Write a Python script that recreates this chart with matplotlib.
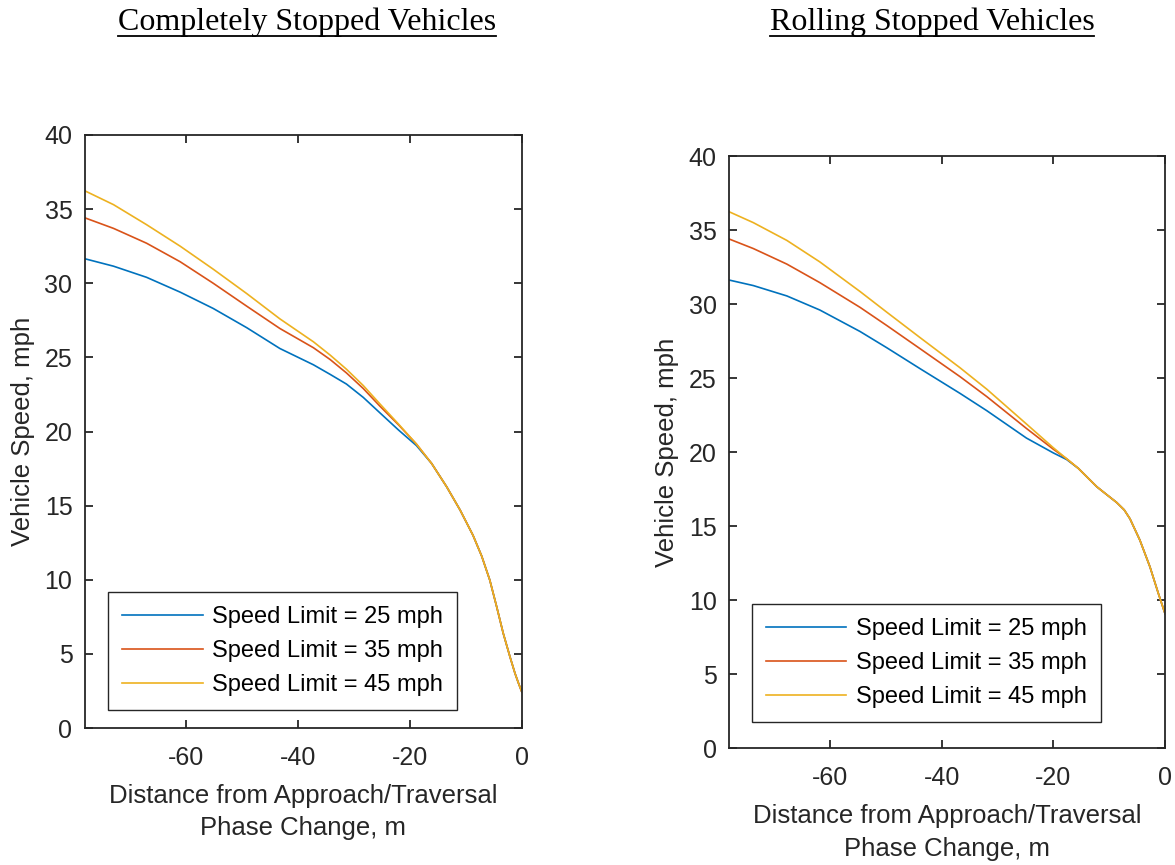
import matplotlib

matplotlib.use("Agg")
import matplotlib.pyplot as plt
from matplotlib.lines import Line2D

plt.rcParams["font.family"] = ["Liberation Sans", "DejaVu Sans"]
plt.rcParams["axes.unicode_minus"] = False

# speed profiles, x in m relative to the approach/traversal phase change
series_labels = ["Speed Limit = 25 mph", "Speed Limit = 35 mph", "Speed Limit = 45 mph"]
colors = ["#0072BD", "#D95319", "#EDB120"]

# completely stopped vehicles
cs_x = [-78, -72.9, -67.0, -61.0, -55.1, -49.1, -43.2, -37.2, -34.2, -31.3, -28.3, -25.3,
        -22.0, -18.8, -16.1, -13.4, -11.0, -8.7, -7.15, -5.7, -4.47, -3.3, -2.1, -1.2,
        -0.6, 0]
cs_v_25 = [31.65, 31.15, 30.4, 29.4, 28.3, 27.0, 25.6, 24.5, 23.85, 23.2, 22.3, 21.25,
           20.1, 19.05, 17.85, 16.27, 14.7, 13.0, 11.6, 9.98, 8.18, 6.39, 4.81, 3.69,
           3.05, 2.45]
cs_v_35 = [34.41, 33.7, 32.7, 31.45, 30.0, 28.45, 26.95, 25.65, 24.85, 23.95, 22.9, 21.7,
           20.45, 19.15, 17.85, 16.27, 14.7, 13.0, 11.6, 9.98, 8.18, 6.39, 4.81, 3.69,
           3.05, 2.45]
cs_v_45 = [36.23, 35.3, 33.95, 32.5, 30.95, 29.3, 27.6, 26.05, 25.15, 24.2, 23.1, 21.85,
           20.5, 19.15, 17.85, 16.27, 14.7, 13.0, 11.6, 9.98, 8.18, 6.39, 4.81, 3.69,
           3.05, 2.45]

# rolling stopped vehicles
rs_x = [-78, -73.7, -67.7, -61.8, -54.6, -49.8, -43.9, -36.7, -31.9, -24.8, -20.0,
        -17.6, -15.5, -12.2, -10.5, -8.65, -7.3, -6.27, -4.5, -2.7, -1.2, 0]
rs_v_25 = [31.62, 31.25, 30.55, 29.6, 28.15, 27.05, 25.65, 23.97, 22.8, 20.95, 19.95,
           19.5, 18.9, 17.66, 17.15, 16.6, 16.1, 15.5, 14.06, 12.26, 10.47, 9.1]
rs_v_35 = [34.39, 33.75, 32.7, 31.45, 29.78, 28.55, 27.0, 25.1, 23.75, 21.6, 20.2,
           19.55, 18.9, 17.66, 17.15, 16.6, 16.1, 15.5, 14.06, 12.26, 10.47, 9.1]
rs_v_45 = [36.23, 35.5, 34.3, 32.85, 30.85, 29.45, 27.75, 25.7, 24.25, 21.9, 20.3,
           19.55, 18.9, 17.66, 17.15, 16.6, 16.1, 15.5, 14.06, 12.26, 10.47, 9.1]

x_ticks = [-60, -40, -20, 0]
y_ticks = [0, 5, 10, 15, 20, 25, 30, 35, 40]

W, H = 1175, 865
INK = "#262626"
fig = plt.figure(figsize=(W / 100, H / 100), dpi=100)


def px_axes(left, top, right, bottom):
    return fig.add_axes([left / W, 1 - bottom / H, (right - left) / W, (bottom - top) / H])


def style(ax):
    ax.set_xlim(-78, 0)
    ax.set_ylim(0, 40)
    ax.set_xticks(x_ticks)
    ax.set_yticks(y_ticks)
    for s in ax.spines.values():
        s.set_color(INK)
        s.set_linewidth(1.3)
    ax.tick_params(direction="in", length=6, width=1.3, color=INK,
                   top=True, right=True, labelsize=18, labelcolor=INK)
    ax.tick_params(axis="x", pad=13)
    ax.tick_params(axis="y", pad=9)
    ax.set_ylabel("Vehicle Speed, mph", fontsize=18.5, color=INK, labelpad=7)
    ax.set_xlabel("Distance from Approach/Traversal\nPhase Change, m", fontsize=18.5,
                  color=INK, linespacing=1.45, labelpad=10)


def add_legend(ax, anchor):
    leg = ax.legend(loc="lower left", bbox_to_anchor=anchor, fontsize=17,
                    handlelength=3.4, handletextpad=0.4, labelspacing=0.5,
                    borderpad=0.6, borderaxespad=0, fancybox=False, framealpha=1)
    leg.get_frame().set_edgecolor(INK)
    leg.get_frame().set_linewidth(1.0)


ax1 = px_axes(85, 135, 521.7, 728)
for vs, c, lab in zip([cs_v_25, cs_v_35, cs_v_45], colors, series_labels):
    ax1.plot(cs_x, vs, color=c, lw=1.2, label=lab)
style(ax1)
add_legend(ax1, (0.053, 0.030))

ax2 = px_axes(729.3, 156, 1165, 748.3)
for vs, c, lab in zip([rs_v_25, rs_v_35, rs_v_45], colors, series_labels):
    ax2.plot(rs_x, vs, color=c, lw=1.2, label=lab)
style(ax2)
add_legend(ax2, (0.052, 0.044))

# underlined panel headings
titles = [("Completely Stopped Vehicles", 307), ("Rolling Stopped Vehicles", 932)]
heads = []
for text, cx in titles:
    t = fig.text(cx / W, 1 - 22 / H, text, ha="center", va="center",
                 fontsize=23, family="Liberation Serif")
    heads.append(t)
fig.canvas.draw()
r = fig.canvas.get_renderer()
for t in heads:
    bb = t.get_window_extent(r)
    y = bb.y0 + 1
    fig.add_artist(Line2D([bb.x0 / W, bb.x1 / W], [y / H, y / H],
                          transform=fig.transFigure, color="black", lw=1.3))

fig.savefig("out.png", dpi=100)
